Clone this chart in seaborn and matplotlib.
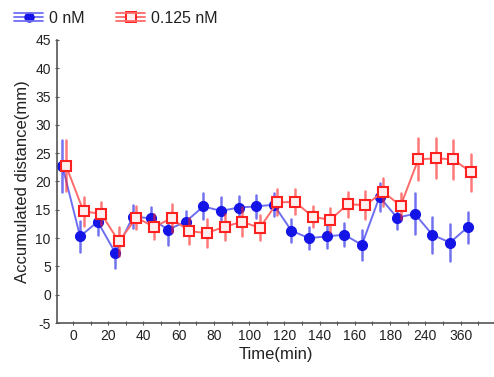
import numpy as np
import pandas as pd
import matplotlib
matplotlib.use("Agg")
import matplotlib.pyplot as plt
import seaborn as sns
from matplotlib.lines import Line2D
from matplotlib.legend_handler import HandlerLine2D

# ---- data ----
segments = ["pre", "0-10", "10-20", "20-30", "30-40", "40-50", "50-60", "60-70",
            "70-80", "80-90", "90-100", "100-110", "110-120", "120-130", "130-140",
            "140-150", "150-160", "160-170", "170-180", "180-210", "210-240",
            "240-300", "300-360", "360+"]
groups = ["0 nM", "0.125 nM"]
ctrl_mean = [22.7, 10.3, 12.9, 7.4, 13.8, 13.5, 11.5, 12.9, 15.6, 14.8, 15.4, 15.6,
             15.9, 11.3, 10.0, 10.3, 10.6, 8.8, 17.3, 13.6, 14.3, 10.6, 9.2, 11.9]
ctrl_err = [4.6, 2.8, 2.3, 2.7, 2.0, 2.0, 2.8, 1.8, 2.3, 2.4, 2.0, 2.0,
            2.0, 2.0, 2.0, 2.0, 2.0, 2.7, 2.5, 2.0, 3.6, 3.2, 3.3, 2.7]
treat_mean = [22.8, 14.7, 14.3, 9.4, 13.6, 12.0, 13.5, 11.2, 10.9, 12.0, 12.9, 11.8,
              16.3, 16.4, 13.8, 13.2, 16.0, 15.8, 18.2, 15.7, 23.9, 24.1, 23.9, 21.6]
treat_err = [4.5, 2.5, 2.0, 2.5, 2.0, 2.2, 2.5, 2.3, 2.5, 2.3, 2.6, 2.2,
             2.3, 2.2, 1.8, 2.2, 2.2, 2.5, 2.5, 2.3, 3.7, 3.5, 3.5, 3.3]
tick_labels = ["0", "", "20", "", "40", "", "60", "", "80", "", "100", "",
               "120", "", "140", "", "160", "", "180", "", "240", "", "360", ""]

# long-form table: each point as mean-err / mean+err pair
rows = []
for g, means, errs in ((groups[0], ctrl_mean, ctrl_err), (groups[1], treat_mean, treat_err)):
    for s, m, e in zip(segments, means, errs):
        rows.append({"segment": s, "group": g, "value": m - e})
        rows.append({"segment": s, "group": g, "value": m + e})
df = pd.DataFrame(rows)

sns.set_theme(style="ticks")
plt.rcParams["font.family"] = ["Liberation Sans", "DejaVu Sans"]
plt.rcParams["axes.unicode_minus"] = False

marker_cols = {"0 nM": "#1414e6", "0.125 nM": "#ff2020"}
line_cols = {"0 nM": "#6e6ef2", "0.125 nM": "#ff6a6a"}

fig = plt.figure(figsize=(4.94, 3.77), dpi=100)
ax = fig.add_axes([0.1154, 0.1432, 0.8846, 0.7508])

sns.pointplot(data=df, x="segment", y="value", hue="group", order=segments,
              hue_order=groups, palette=marker_cols, markers=["o", "s"],
              linestyles=["-", "-"], dodge=0.2, estimator="mean",
              errorbar=lambda v: (v.min(), v.max()),
              err_kws={"linewidth": 1.8, "alpha": 0.6}, legend=False, ax=ax)

main = [l for l in ax.lines if l.get_marker() not in ("None", "", " ", None)]
for l, g in zip(main, groups):
    l.set_color(line_cols[g])
    l.set_linewidth(1.4)
    l.set_markeredgecolor(marker_cols[g])
    if g == "0 nM":
        l.set_markerfacecolor(marker_cols[g])
        l.set_markersize(7.2)
        l.set_markeredgewidth(0.8)
    else:
        l.set_markerfacecolor("#fff0f0")
        l.set_markersize(7.8)
        l.set_markeredgewidth(1.5)
        l.set_zorder(4)

ax.set_xlim(-0.41, 24.4)
ax.set_ylim(-5, 45)
ax.set_yticks(np.arange(-5, 46, 5))
ax.set_xticks(np.arange(len(segments)) + 0.5)
ax.set_xticklabels(tick_labels)

for side in ("top", "right"):
    ax.spines[side].set_visible(False)
for side in ("left", "bottom"):
    ax.spines[side].set_color("#555555")
    ax.spines[side].set_linewidth(1.2)
ax.tick_params(direction="inout", length=3, width=0.8, color="#555555",
               labelsize=10, labelcolor="#222222", pad=3)

ax.set_xlabel("Time(min)", fontsize=12, color="#222222", labelpad=3)
ax.set_ylabel("Accumulated distance(mm)", fontsize=12, color="#222222", labelpad=4)


class ErrHandler(HandlerLine2D):
    def create_artists(self, legend, orig_handle, xdescent, ydescent, width,
                       height, fontsize, trans):
        arts = list(super().create_artists(legend, orig_handle, xdescent, ydescent,
                                           width, height, fontsize, trans))
        ymid = height / 2 - ydescent
        for dy in (-0.38 * height, 0.38 * height):
            ln = Line2D([-xdescent, width - xdescent], [ymid + dy, ymid + dy],
                        color=orig_handle.get_color(), lw=1.3)
            ln.set_transform(trans)
            arts.append(ln)
        return arts


handles = [
    Line2D([], [], color=line_cols["0 nM"], lw=1.3, marker="o", markersize=6.5,
           markerfacecolor=marker_cols["0 nM"], markeredgecolor=marker_cols["0 nM"]),
    Line2D([], [], color=line_cols["0.125 nM"], lw=1.3, marker="s", markersize=6.5,
           markerfacecolor="#fff0f0", markeredgecolor=marker_cols["0.125 nM"],
           markeredgewidth=1.4),
]
fig.legend(handles, groups, loc="upper left", bbox_to_anchor=(0.0, 1.01), ncol=2,
           frameon=False, fontsize=11.5, handlelength=1.8, handletextpad=0.35,
           columnspacing=2.0, labelcolor="#222222",
           handler_map={Line2D: ErrHandler()})

fig.savefig("out.png", dpi=100)
